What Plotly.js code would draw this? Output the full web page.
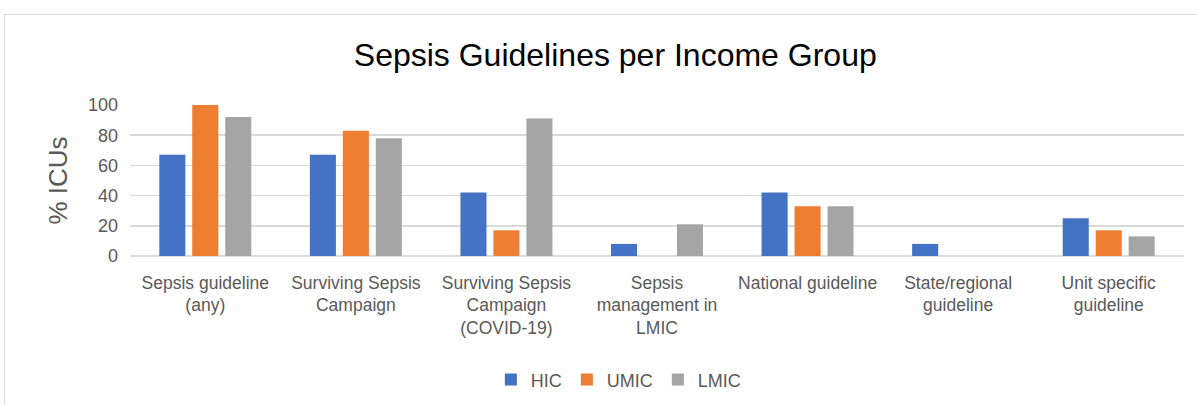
<!DOCTYPE html>
<html>
<head>
<meta charset="utf-8">
<script src="https://cdn.plot.ly/plotly-3.0.1.min.js"></script>
<style>
html,body{margin:0;padding:0;background:#fff;}
#wrap{position:relative;width:1197px;height:405px;overflow:hidden;}
#chart{width:1197px;height:405px;}
#frame{position:absolute;left:4px;top:14px;width:1210px;height:420px;border:1px solid #d9d9d9;pointer-events:none;box-sizing:border-box;}
</style>
</head>
<body>
<div id="wrap"><div id="chart"></div><div id="frame"></div></div>
<script>
const categories = [
  "Sepsis guideline<br>(any)",
  "Surviving Sepsis<br>Campaign",
  "Surviving Sepsis<br>Campaign<br>(COVID-19)",
  "Sepsis<br>management in<br>LMIC",
  "National guideline",
  "State/regional<br>guideline",
  "Unit specific<br>guideline"
];
const seriesNames = ["HIC", "UMIC", "LMIC"];
const hic  = [67, 67, 42, 8, 42, 8, 25];
const umic = [100, 83, 17, 0, 33, 0, 17];
const lmic = [92, 78, 91, 21, 33, 0, 13];
const yTicks = [0, 20, 40, 60, 80, 100];
const colors = ["#4472C4", "#ED7D31", "#A5A5A5"];

const values = [hic, umic, lmic];
const traces = seriesNames.map((n, i) => ({
  type: "bar",
  name: n,
  x: categories,
  y: values[i],
  marker: {color: colors[i], line: {color: "#ffffff", width: 0}},
  hoverinfo: "x+y+name"
}));

const font = "Arial, 'Liberation Sans', sans-serif";
const layout = {
  width: 1197, height: 405,
  margin: {l: 130, r: 13, t: 105, b: 149},
  paper_bgcolor: "rgba(0,0,0,0)",
  plot_bgcolor: "#ffffff",
  font: {family: font, color: "#595959", size: 18},
  title: {text: "Sepsis Guidelines per Income Group", font: {family: font, size: 32, color: "#000000"},
          x: 0.514, xanchor: "center", y: 0.865, yanchor: "middle", yref: "container"},
  barmode: "group",
  bargap: 0.343,
  bargroupgap: 0.21,
  xaxis: {
    type: "category",
    showgrid: false, zeroline: false, showline: false,
    ticks: "", tickangle: 0, ticklabelstandoff: 14,
    tickfont: {family: font, size: 17.5, color: "#595959"},
    automargin: false
  },
  yaxis: {
    range: [0, 100], tickvals: yTicks, ticktext: yTicks.map(String),
    showgrid: true, gridcolor: "#d9d9d9", gridwidth: 1.5,
    zeroline: true, zerolinecolor: "#d9d9d9", zerolinewidth: 1.5,
    showline: false, ticks: "", ticklabelstandoff: 11,
    tickfont: {family: font, size: 18, color: "#595959"},
    title: {text: "% ICUs", font: {family: font, size: 26, color: "#595959"}, standoff: 12},
    automargin: false
  },
  showlegend: true,
  legend: {orientation: "h", xref: "container", x: 0.517, xanchor: "center",
           yref: "container", y: 0.062, yanchor: "middle",
           font: {family: font, size: 18, color: "#595959"}, itemwidth: 30, traceorder: "normal"}
};
Plotly.newPlot("chart", traces, layout, {displayModeBar: false, staticPlot: true});
</script>
</body>
</html>
